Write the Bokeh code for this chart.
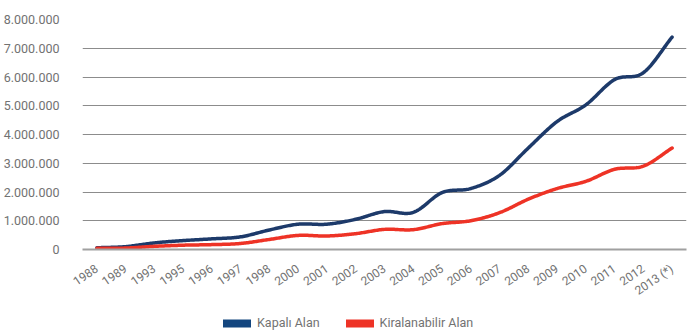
import numpy as np
from bokeh.plotting import figure
from bokeh.layouts import column
from bokeh.models import FixedTicker, Legend, LegendItem, ColumnDataSource
from bokeh.embed import file_html
from bokeh.resources import INLINE

# Years on the horizontal axis
years = ["1988", "1989", "1993", "1995", "1996", "1997", "1998", "2000", "2001",
         "2002", "2003", "2004", "2005", "2006", "2007", "2008", "2009", "2010",
         "2011", "2012", "2013 (*)"]

# Total covered area (m2)
kapali_alan = [60000, 100000, 230000, 310000, 370000, 440000, 680000, 880000, 880000,
               1050000, 1320000, 1290000, 1980000, 2120000, 2580000, 3530000, 4450000,
               5030000, 5910000, 6150000, 7390000]

# Leasable area (m2)
kiralanabilir_alan = [40000, 50000, 110000, 150000, 170000, 210000, 350000, 490000, 470000,
                      550000, 700000, 690000, 900000, 1000000, 1280000, 1750000, 2120000,
                      2370000, 2790000, 2900000, 3530000]

y_ticks = [0, 1000000, 2000000, 3000000, 4000000, 5000000, 6000000, 7000000, 8000000]
y_tick_labels = ["0", "1.000.000", "2.000.000", "3.000.000", "4.000.000",
                 "5.000.000", "6.000.000", "7.000.000", "8.000.000"]

series_names = ["Kapalı Alan", "Kiralanabilir Alan"]

NAVY = "#1d3a6a"
RED = "#ee3326"
FONT = "Roboto"
GREY_TEXT = "#727272"


def smooth(xs, ys, steps=24):
    """Catmull-Rom curve through the points, for a softened line."""
    xs = np.asarray(xs, float)
    ys = np.asarray(ys, float)
    px = np.concatenate([[2 * xs[0] - xs[1]], xs, [2 * xs[-1] - xs[-2]]])
    py = np.concatenate([[2 * ys[0] - ys[1]], ys, [2 * ys[-1] - ys[-2]]])
    out_x, out_y = [], []
    t = np.linspace(0, 1, steps, endpoint=False)
    for i in range(1, len(px) - 2):
        for arr, out in ((px, out_x), (py, out_y)):
            p0, p1, p2, p3 = arr[i - 1], arr[i], arr[i + 1], arr[i + 2]
            out.extend(0.5 * ((2 * p1) + (-p0 + p2) * t
                              + (2 * p0 - 5 * p1 + 4 * p2 - p3) * t ** 2
                              + (-p0 + 3 * p1 - 3 * p2 + p3) * t ** 3))
    out_x.append(xs[-1])
    out_y.append(ys[-1])
    return out_x, out_y


idx = list(range(len(years)))

# ---- main chart ----
p = figure(width=689, height=306, output_backend="svg", toolbar_location=None,
           x_range=(-0.5, len(years) - 0.5), y_range=(0, 8000000),
           min_border_left=74, min_border_right=3, min_border_top=19,
           min_border_bottom=55)
p.outline_line_color = None
p.background_fill_color = "white"
p.border_fill_color = "white"

bx, by = smooth(idx, kapali_alan)
rx, ry = smooth(idx, kiralanabilir_alan)
p.line(bx, by, line_color=NAVY, line_width=3.5, line_cap="round", line_join="round")
p.line(rx, ry, line_color=RED, line_width=3.5, line_cap="round", line_join="round")

p.xaxis.ticker = FixedTicker(ticks=idx)
p.xaxis.major_label_overrides = {i: y for i, y in enumerate(years)}
p.xaxis.major_label_orientation = 0.6
p.xaxis.major_label_text_font = FONT
p.xaxis.major_label_text_font_size = "12px"
p.xaxis.major_label_text_color = GREY_TEXT
p.xaxis.major_tick_line_color = None
p.xaxis.minor_tick_line_color = None
p.xaxis.axis_line_color = "#a0a0a0"
p.xaxis.axis_line_width = 2
p.xaxis.major_label_standoff = 12

p.yaxis.ticker = FixedTicker(ticks=y_ticks)
p.yaxis.major_label_overrides = {v: s for v, s in zip(y_ticks, y_tick_labels)}
p.yaxis.major_label_text_font = FONT
p.yaxis.major_label_text_font_size = "12.5px"
p.yaxis.major_label_text_color = GREY_TEXT
p.yaxis.major_tick_line_color = None
p.yaxis.minor_tick_line_color = None
p.yaxis.axis_line_color = None
p.yaxis.major_label_standoff = 17

p.xgrid.grid_line_color = None
p.ygrid.grid_line_color = "#8c8c8c"
p.ygrid.grid_line_width = 1

# ---- legend strip under the chart ----
lg = figure(width=689, height=25, output_backend="svg", toolbar_location=None,
            x_axis_type=None, y_axis_type=None, x_range=(0, 1), y_range=(0, 1),
            min_border=0)
lg.outline_line_color = None
lg.xgrid.grid_line_color = None
lg.ygrid.grid_line_color = None
# key strokes kept outside the visible range; only their legend swatches show
keys = ColumnDataSource(data=dict(x=[-5, -4], y=[-5, -5]))
key_b = lg.line("x", "y", source=keys, line_color="#13467f", line_width=8, line_cap="round")
key_r = lg.line("x", "y", source=keys, line_color=RED, line_width=8, line_cap="round")
legend = Legend(items=[LegendItem(label=series_names[0], renderers=[key_b]),
                       LegendItem(label=series_names[1], renderers=[key_r])],
                orientation="horizontal", location=(141, 1),
                label_text_font=FONT, label_text_font_size="12.5px",
                label_text_color=GREY_TEXT, glyph_width=28, glyph_height=14,
                label_standoff=6, label_height=14,
                spacing=26, padding=2, margin=0,
                background_fill_alpha=0, border_line_color=None)
lg.add_layout(legend, "center")

layout = column(p, lg, spacing=0)
open("out.html", "w").write(file_html(layout, INLINE))
